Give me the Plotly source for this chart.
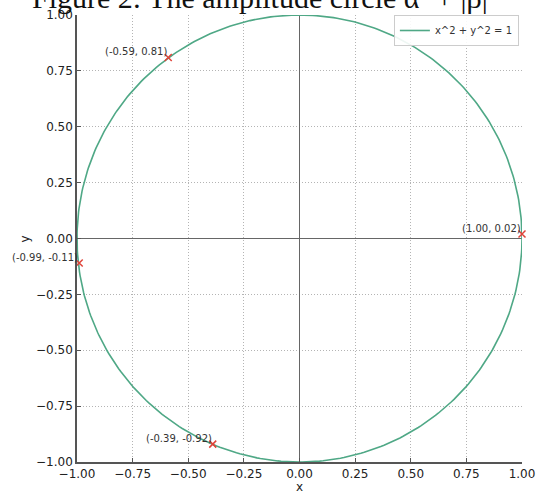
import numpy as np
import plotly.graph_objects as go

# Data
point_x = [-0.59, 1.00, -0.99, -0.39]
point_y = [0.81, 0.02, -0.11, -0.92]
point_labels = ["(-0.59, 0.81)", "(1.00, 0.02)", "(-0.99, -0.11)", "(-0.39, -0.92)"]
tick_vals = [-1.0, -0.75, -0.5, -0.25, 0.0, 0.25, 0.5, 0.75, 1.0]
tick_text = ["\u22121.00", "\u22120.75", "\u22120.50", "\u22120.25", "0.00", "0.25", "0.50", "0.75", "1.00"]
legend_label = "x^2 + y^2 = 1"
title_text = "Figure 2: The amplitude circle \u03b1\u00b2 + |\u03b2|\u00b2"

# unit circle x^2 + y^2 = 1
theta = np.linspace(0, 2 * np.pi, 400)
circle_x = np.cos(theta)
circle_y = np.sin(theta)

fig = go.Figure()

fig.add_trace(go.Scatter(
    x=circle_x, y=circle_y, mode="lines",
    line=dict(color="#4fa886", width=1.6),
    name=legend_label, cliponaxis=False,
))

fig.add_trace(go.Scatter(
    x=point_x, y=point_y, mode="markers",
    marker=dict(symbol="x-thin", size=7, line=dict(color="#e0443a", width=1.5), color="#e0443a"),
    showlegend=False, cliponaxis=False,
))

for px, py, lab in zip(point_x, point_y, point_labels):
    fig.add_annotation(x=px, y=py, xref="x", yref="y", text=lab, showarrow=False,
                       xanchor="right", yanchor="middle", xshift=1, yshift=6,
                       font=dict(family="DejaVu Sans", size=10, color="#333333"))

# zero lines
fig.add_shape(type="line", x0=0, x1=0, y0=-1, y1=1, xref="x", yref="y",
              line=dict(color="#666666", width=1), layer="between")
fig.add_shape(type="line", x0=-1, x1=1, y0=0, y1=0, xref="x", yref="y",
              line=dict(color="#666666", width=1), layer="between")

axis_common = dict(
    range=[-1, 1], tickvals=tick_vals, ticktext=tick_text,
    showgrid=True, gridcolor="#b4b4b4", gridwidth=0.8, griddash="1px,2px",
    zeroline=False, showline=True, linecolor="#555555", linewidth=1.5,
    ticks="inside", ticklen=4, tickcolor="#555555",
    tickfont=dict(family="DejaVu Sans", size=12, color="#222222"),
    mirror=False, automargin=False,
)

fig.update_xaxes(**axis_common)
fig.update_yaxes(**axis_common)

axis_title_font = dict(family="DejaVu Sans", size=12, color="#222222")
fig.add_annotation(text="x", xref="paper", yref="paper", x=0.5, y=-0.056,
                   xanchor="center", yanchor="middle", showarrow=False, font=axis_title_font)
fig.add_annotation(text="y", xref="paper", yref="paper", x=-0.117, y=0.5,
                   xanchor="center", yanchor="middle", showarrow=False,
                   textangle=-90, font=axis_title_font)

fig.add_annotation(
    text=title_text, xref="paper", yref="paper", x=-0.1056, y=0.9968,
    xanchor="left", yanchor="bottom", showarrow=False,
    font=dict(family="Liberation Serif", size=30, color="#111111"),
)

fig.update_layout(
    width=540, height=498,
    margin=dict(l=77, r=18, t=15, b=36),
    paper_bgcolor="white", plot_bgcolor="white",
    showlegend=True,
    legend=dict(x=0.993, y=1.0, xanchor="right", yanchor="top",
                bgcolor="rgba(255,255,255,0.9)", bordercolor="#cccccc", borderwidth=1,
                itemwidth=30,
                font=dict(family="DejaVu Sans", size=10, color="#333333")),
)

fig.write_html("out.html", config={"displayModeBar": False},
               post_script="document.body.style.margin='0';")
